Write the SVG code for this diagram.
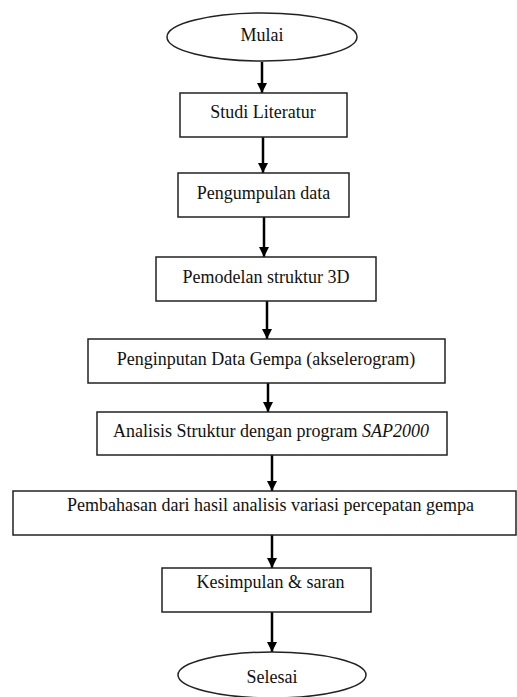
<svg xmlns="http://www.w3.org/2000/svg" width="517" height="697" viewBox="0 0 517 697">
<defs>
<style>
.box{fill:#fff;stroke:#222;stroke-width:1.5}
.t{font-family:"Liberation Serif","Times New Roman",serif;font-size:18px;fill:#111;text-anchor:middle}
.c{stroke:#000;stroke-width:2.5;fill:none}
</style>
<marker id="ah" viewBox="0 0 10 10" refX="10" refY="5" markerWidth="4" markerHeight="4" markerUnits="strokeWidth" orient="auto">
<path d="M0,0 L10,5 L0,10 Z" fill="#000"/>
</marker>
</defs>
<rect width="517" height="697" fill="#fff"/>
<g id="connectors">
<line class="c" x1="262" y1="62" x2="262" y2="93" marker-end="url(#ah)"/>
<line class="c" x1="263" y1="137" x2="263" y2="173" marker-end="url(#ah)"/>
<line class="c" x1="264" y1="217" x2="264" y2="257" marker-end="url(#ah)"/>
<line class="c" x1="267" y1="301" x2="267" y2="339" marker-end="url(#ah)"/>
<line class="c" x1="268" y1="383" x2="268" y2="412" marker-end="url(#ah)"/>
<line class="c" x1="272" y1="455" x2="272" y2="491" marker-end="url(#ah)"/>
<line class="c" x1="272" y1="535" x2="272" y2="568" marker-end="url(#ah)"/>
<line class="c" x1="272" y1="612" x2="272" y2="652" marker-end="url(#ah)"/>
</g>
<g id="mulai">
<ellipse class="box" cx="262" cy="37" rx="95" ry="24" stroke-width="1.8"/>
<text class="t" x="262" y="41">Mulai</text>
</g>
<g id="studi">
<rect class="box" x="180" y="93" width="167" height="44"/>
<text class="t" x="263" y="118">Studi Literatur</text>
</g>
<g id="pengumpulan">
<rect class="box" x="178" y="173" width="171" height="44"/>
<text class="t" x="263.5" y="199">Pengumpulan data</text>
</g>
<g id="pemodelan">
<rect class="box" x="156" y="257" width="220" height="44"/>
<text class="t" x="266" y="283">Pemodelan struktur 3D</text>
</g>
<g id="penginputan">
<rect class="box" x="88" y="339" width="357" height="44"/>
<text class="t" x="266" y="365">Penginputan Data Gempa (akselerogram)</text>
</g>
<g id="analisis">
<rect class="box" x="97" y="412" width="350" height="43"/>
<text class="t" x="271" y="437">Analisis Struktur dengan program <tspan font-style="italic">SAP2000</tspan></text>
</g>
<g id="pembahasan">
<rect class="box" x="13" y="491" width="503" height="44"/>
<text class="t" x="270.5" y="511">Pembahasan dari hasil analisis variasi percepatan gempa</text>
</g>
<g id="kesimpulan">
<rect class="box" x="162" y="568" width="209" height="44"/>
<text class="t" x="270.5" y="588">Kesimpulan &amp; saran</text>
</g>
<g id="selesai">
<ellipse class="box" cx="272" cy="675" rx="94" ry="23" stroke-width="1.8"/>
<text class="t" x="272" y="683">Selesai</text>
</g>
</svg>
